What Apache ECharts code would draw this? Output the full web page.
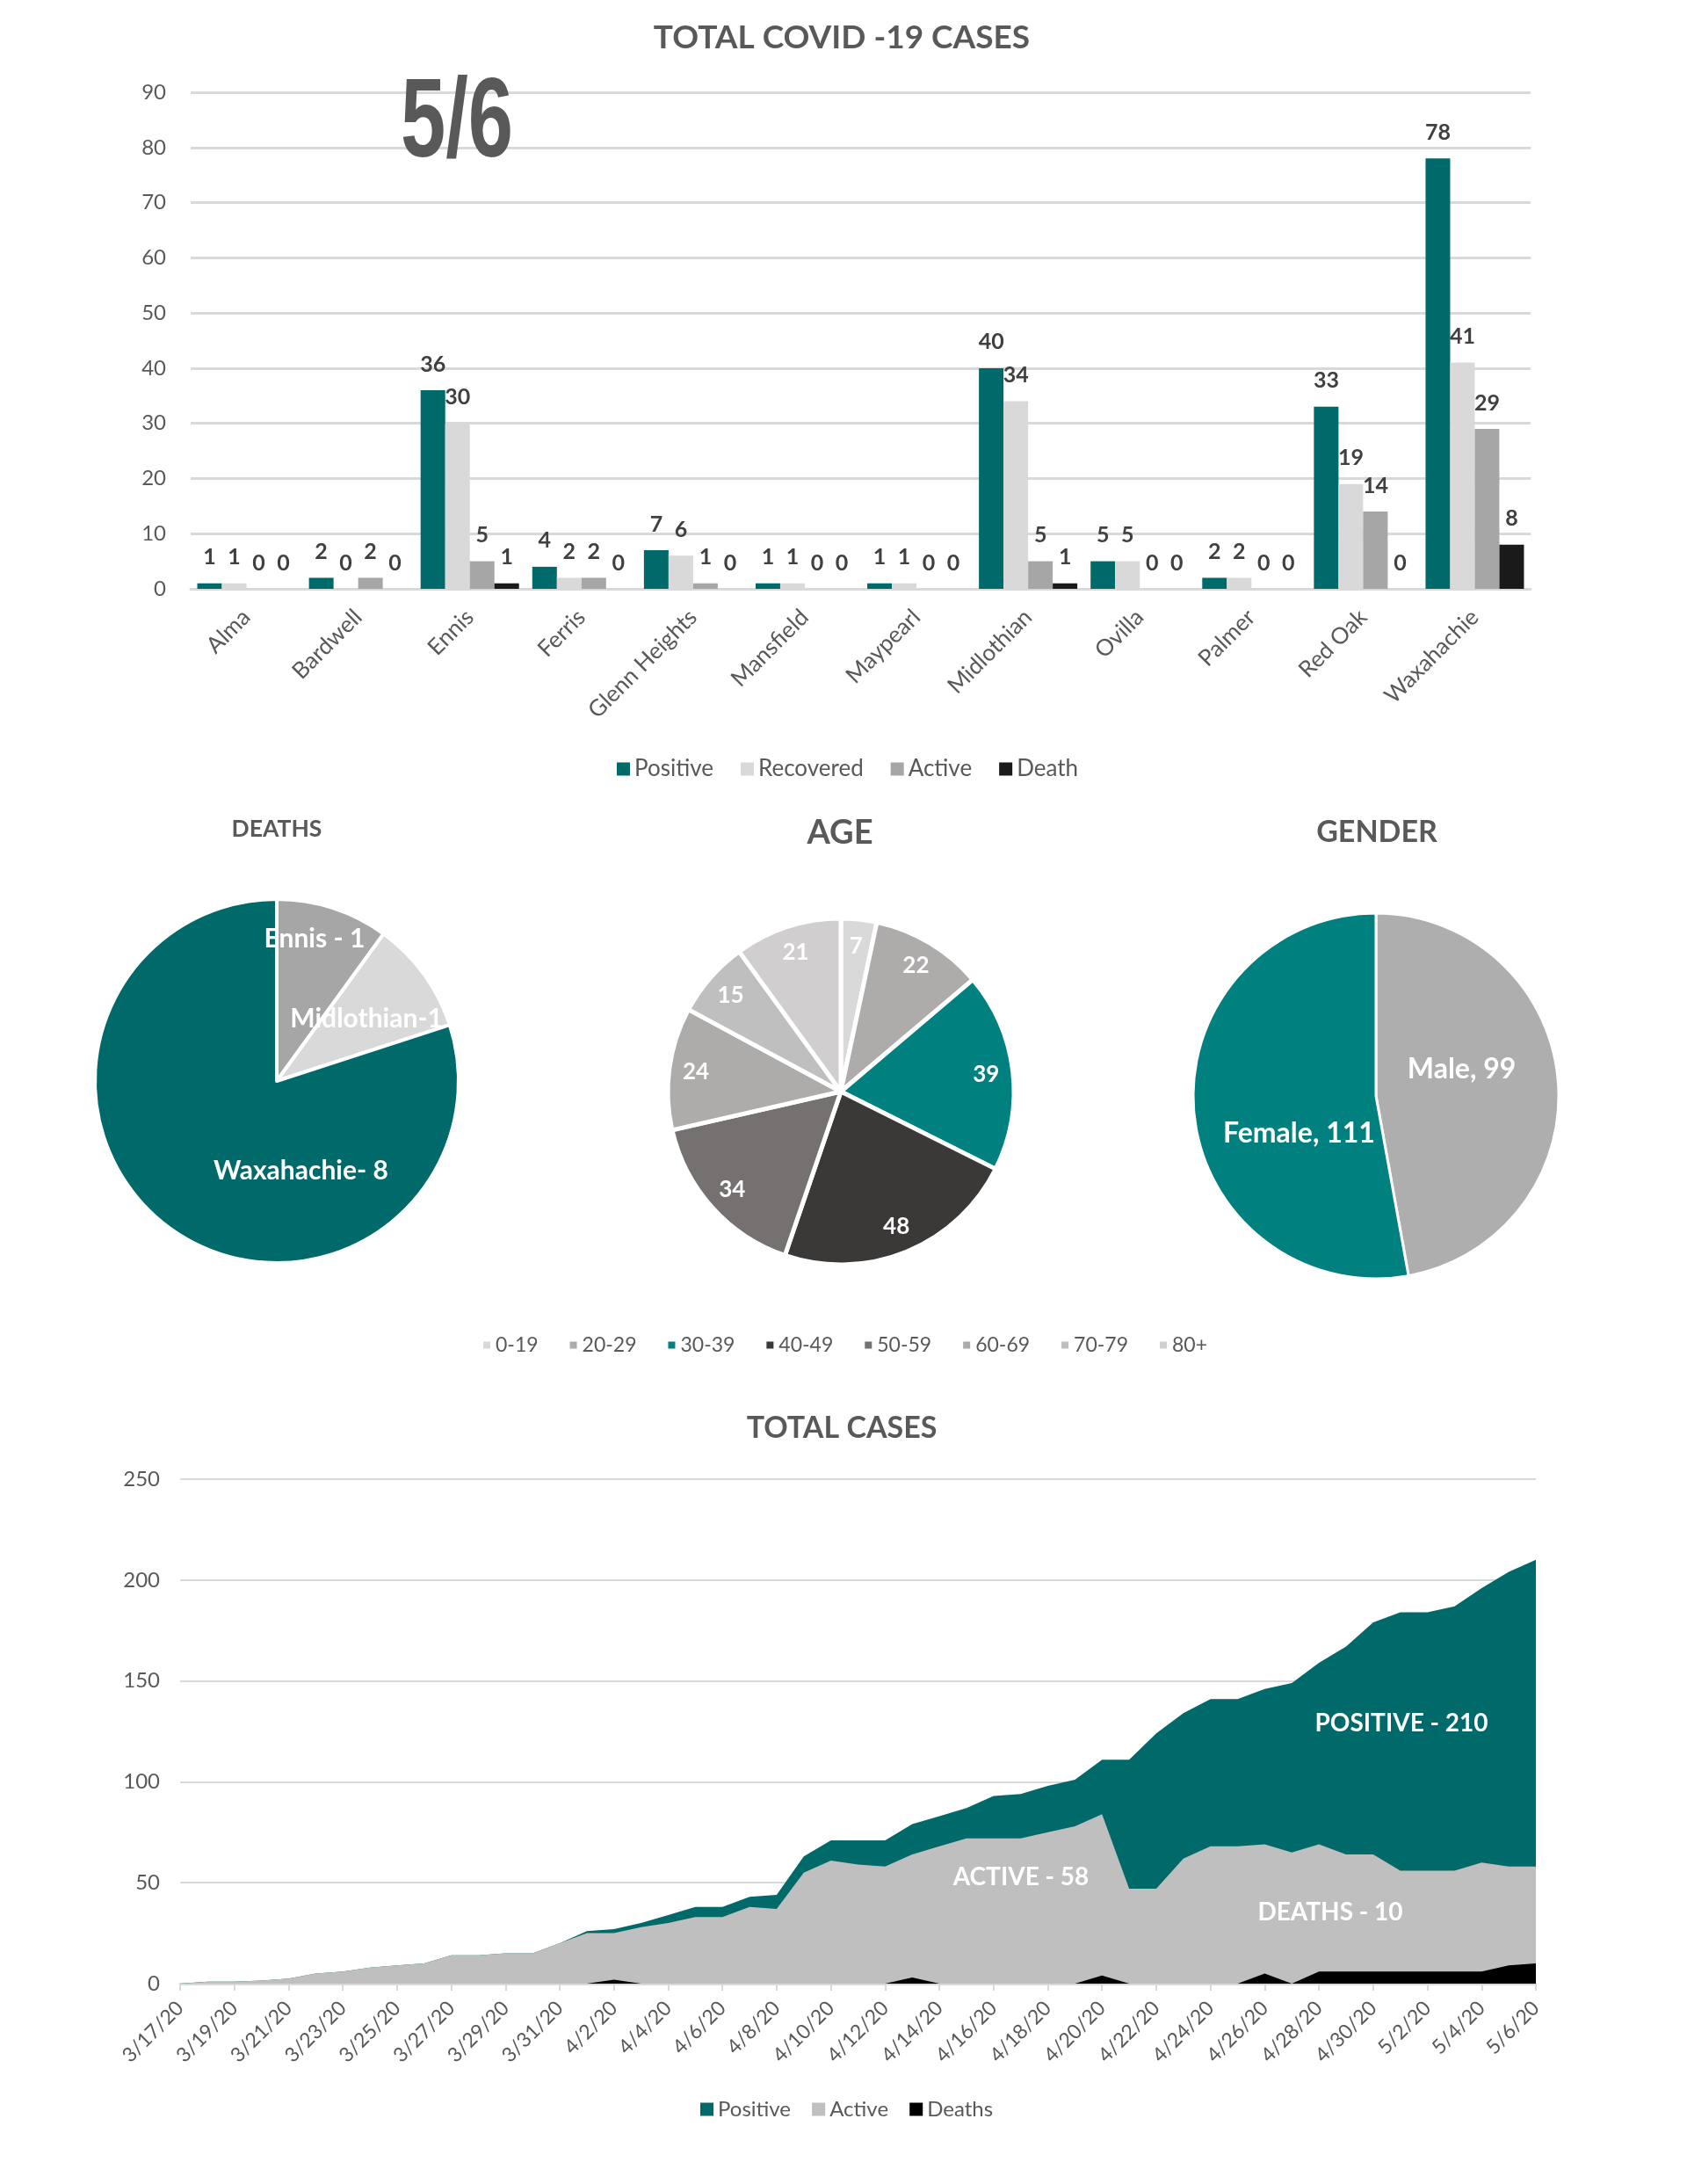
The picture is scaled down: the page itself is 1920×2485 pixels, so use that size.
<!DOCTYPE html>
<html>
<head>
<meta charset="utf-8">
<title>Total COVID-19 Cases</title>
<script src="https://cdn.jsdelivr.net/npm/echarts@6/dist/echarts.min.js"></script>
<style>
  html, body { margin: 0; padding: 0; background: #fff; }
  #chart { width: 1920px; height: 2485px; }
</style>
</head>
<body>
<div id="chart"></div>
<script>
// bar chart data
const towns = ['Alma', 'Bardwell', 'Ennis', 'Ferris', 'Glenn Heights', 'Mansfield', 'Maypearl', 'Midlothian', 'Ovilla', 'Palmer', 'Red Oak', 'Waxahachie']
const townPositive = [1, 2, 36, 4, 7, 1, 1, 40, 5, 2, 33, 78]
const townRecovered = [1, 0, 30, 2, 6, 1, 1, 34, 5, 2, 19, 41]
const townActive = [0, 2, 5, 2, 1, 0, 0, 5, 0, 0, 14, 29]
const townDeath = [0, 0, 1, 0, 0, 0, 0, 1, 0, 0, 0, 8]

// pies
const deathNames = ['Ennis - 1', 'Midlothian-1', 'Waxahachie- 8']
const deathValues = [1, 1, 8]
const ageNames = ['0-19', '20-29', '30-39', '40-49', '50-59', '60-69', '70-79', '80+']
const ageValues = [7, 22, 39, 48, 34, 24, 15, 21]
const genderNames = ['Male, 99', 'Female, 111']
const genderValues = [99, 111]

// area chart data, 3/17/20 to 5/6/20
const dates = ['3/17/20', '3/18/20', '3/19/20', '3/20/20', '3/21/20', '3/22/20', '3/23/20', '3/24/20', '3/25/20', '3/26/20', '3/27/20', '3/28/20', '3/29/20', '3/30/20', '3/31/20',
  '4/1/20', '4/2/20', '4/3/20', '4/4/20', '4/5/20', '4/6/20', '4/7/20', '4/8/20', '4/9/20', '4/10/20', '4/11/20', '4/12/20', '4/13/20', '4/14/20', '4/15/20', '4/16/20', '4/17/20', '4/18/20', '4/19/20', '4/20/20',
  '4/21/20', '4/22/20', '4/23/20', '4/24/20', '4/25/20', '4/26/20', '4/27/20', '4/28/20', '4/29/20', '4/30/20', '5/1/20', '5/2/20', '5/3/20', '5/4/20', '5/5/20', '5/6/20']
const totalPositive = [0, 1, 1, 1.5, 2.5, 5, 6, 8, 9, 10, 14, 14, 15, 15, 20,
  26, 27, 30, 34, 38, 38, 43, 44, 63, 71, 71, 71, 79, 83, 87, 93, 94, 98, 101, 111,
  111, 124, 134, 141, 141, 146, 149, 159, 167, 179, 184, 184, 187, 196, 204, 210]
const totalActive = [0, 1, 1, 1.5, 2.5, 5, 6, 8, 9, 10, 14, 14, 15, 15, 20,
  25, 25, 28, 30, 33, 33, 38, 37, 55, 61, 59, 58, 64, 68, 72, 72, 72, 75, 78, 84,
  47, 47, 62, 68, 68, 69, 65, 69, 64, 64, 56, 56, 56, 60, 58, 58]
const totalDeaths = [0, 0, 0, 0, 0, 0, 0, 0, 0, 0, 0, 0, 0, 0, 0,
  0, 2, 0, 0, 0, 0, 0, 0, 0, 0, 0, 0, 3, 0, 0, 0, 0, 0, 0, 4,
  0, 0, 0, 0, 0, 5, 0, 6, 6, 6, 6, 6, 6, 6, 9, 10]

const FONT = 'Lato'
const TEXT = '#595959'
const GRID = '#D9D9D9'
const TEAL = '#00696A'

// pie labels sit further out than the default middle of the slice
function pushOut(values, px) {
  const total = values.reduce((a, b) => a + b, 0)
  let sum = 0
  return values.map(v => {
    const mid = (sum + v / 2) / total * 2 * Math.PI
    sum += v
    return { dx: Math.sin(mid) * px, dy: -Math.cos(mid) * px }
  })
}
const deathShift = [{ dx: 10, dy: -60 }, { dx: 16, dy: -8 }, { dx: 90, dy: 16 }]
const ageShift = pushOut(ageValues, 65)
const genderShift = [{ dx: -9, dy: -21 }, { dx: 19, dy: 33 }]

function toPie(names, values, colors) {
  return names.map((name, i) => ({ name, value: values[i], itemStyle: { color: colors[i] } }))
}

function barSeries(name, data, color) {
  return {
    name, type: 'bar', data,
    xAxisIndex: 0, yAxisIndex: 0,
    barWidth: 28, barGap: 0,
    itemStyle: { color },
    label: { show: true, position: 'top', distance: 17, fontFamily: FONT, fontSize: 25, fontWeight: 'bold', color: '#404040' }
  }
}

function areaSeries(name, data, color) {
  return {
    name, type: 'line', data,
    xAxisIndex: 1, yAxisIndex: 1,
    symbol: 'none',
    lineStyle: { width: 0 },
    itemStyle: { color },
    areaStyle: { color, opacity: 1 }
  }
}

function pieSeries(data, center, radius, borderWidth, fontSize, shift) {
  return {
    type: 'pie', center, radius,
    startAngle: 90, clockwise: true,
    animation: false,
    data,
    itemStyle: { borderColor: '#fff', borderWidth },
    label: { show: true, position: 'inside', formatter: p => p.data.label || p.name, fontFamily: FONT, fontSize, fontWeight: 'bold', color: '#fff' },
    labelLine: { show: false },
    emphasis: { disabled: true },
    labelLayout: p => shift[p.dataIndex]
  }
}

function title(text, x, y, fontSize) {
  return {
    text, left: x, top: y, textAlign: 'center', textVerticalAlign: 'middle', padding: 0,
    textStyle: { fontFamily: FONT, fontSize, fontWeight: 'bold', color: TEXT }
  }
}

function note(text, x, y) {
  return {
    type: 'text', x, y, z: 20,
    style: { text, fontFamily: FONT, fontSize: 28, fontWeight: 'bold', fill: '#fff', textAlign: 'center', textVerticalAlign: 'middle' }
  }
}

const option = {
  animation: false,
  backgroundColor: '#fff',
  title: [
    title('TOTAL COVID -19 CASES', 958, 43, 37),
    title('DEATHS', 315, 943, 26.5),
    title('AGE', 956, 948, 38),
    title('GENDER', 1567, 947, 34),
    title('TOTAL CASES', 958, 1625, 34)
  ],
  legend: [
    { data: ['Positive', 'Recovered', 'Active', 'Death'], left: 697, top: 857, icon: 'rect', itemWidth: 15, itemHeight: 15, itemGap: 31, textStyle: { fontFamily: FONT, fontSize: 26, color: TEXT }, selectedMode: false },
    { data: ageNames, left: 543, top: 1514, icon: 'rect', itemWidth: 10, itemHeight: 10, itemGap: 34, textStyle: { fontFamily: FONT, fontSize: 23, color: TEXT }, selectedMode: false },
    { data: ['Positive ', 'Active ', 'Deaths'], left: 792, top: 2383, icon: 'rect', itemWidth: 15, itemHeight: 15, itemGap: 18, textStyle: { fontFamily: FONT, fontSize: 24, color: TEXT }, selectedMode: false }
  ],
  grid: [
    { left: 217, right: 178, top: 105, height: 565 },
    { left: 205, right: 172, top: 1683, height: 574 }
  ],
  xAxis: [
    {
      type: 'category', gridIndex: 0, data: towns,
      axisLine: { lineStyle: { color: GRID, width: 3 } },
      axisTick: { show: false },
      axisLabel: { rotate: 45, interval: 0, margin: 28, fontFamily: FONT, fontSize: 26, color: TEXT }
    },
    {
      type: 'category', gridIndex: 1, data: dates, boundaryGap: false,
      axisLine: { lineStyle: { color: GRID, width: 3 } },
      axisTick: { show: true, interval: 1, length: 8, lineStyle: { color: GRID, width: 2 } },
      axisLabel: { rotate: 45, interval: 1, margin: 24, fontFamily: FONT, fontSize: 23, color: TEXT }
    }
  ],
  yAxis: [
    {
      type: 'value', gridIndex: 0, min: 0, max: 90, interval: 10,
      axisLine: { show: false }, axisTick: { show: false },
      axisLabel: { margin: 28, fontFamily: FONT, fontSize: 24, color: TEXT },
      splitLine: { lineStyle: { color: GRID, width: 3 } }
    },
    {
      type: 'value', gridIndex: 1, min: 0, max: 250, interval: 50,
      axisLine: { show: false }, axisTick: { show: false },
      axisLabel: { margin: 23, fontFamily: FONT, fontSize: 24, color: TEXT },
      splitLine: { lineStyle: { color: GRID, width: 2 } }
    }
  ],
  series: [
    barSeries('Positive', townPositive, TEAL),
    barSeries('Recovered', townRecovered, '#D9D9D9'),
    barSeries('Active', townActive, '#A6A6A6'),
    barSeries('Death', townDeath, '#1A1A1A'),
    pieSeries(toPie(deathNames, deathValues, ['#A6A6A6', '#D9D9D9', TEAL]), [315, 1230], 207, 4, 30, deathShift),
    pieSeries(toPie(ageNames, ageValues, ['#D9D9D9', '#AEABAB', '#00807F', '#3B3838', '#767171', '#AEABAB', '#BFBFBF', '#D0CECE']).map(d => ({ ...d, label: d.value })), [957, 1242], 197, 5, 26, ageShift),
    pieSeries(toPie(genderNames, genderValues, ['#AEAEAE', '#00807F']), [1566, 1247], 208, 3, 32, genderShift),
    areaSeries('Positive ', totalPositive, TEAL),
    areaSeries('Active ', totalActive, '#BFBFBF'),
    areaSeries('Deaths', totalDeaths, '#000000')
  ],
  graphic: [
    // the big date stamp on the bar chart
    {
      type: 'text', x: 520, y: 143, scaleX: 0.72, z: 20,
      style: { text: '5/6', fontFamily: 'Liberation Sans', fontSize: 128, fontWeight: 'bold', fill: TEXT, textAlign: 'center', textVerticalAlign: 'middle' }
    },
    note('POSITIVE - 210', 1595, 1961),
    note('ACTIVE - 58', 1162, 2136),
    note('DEATHS - 10', 1514, 2176)
  ]
}

const myChart = echarts.init(document.getElementById('chart'))
myChart.setOption(option)
</script>
</body>
</html>
